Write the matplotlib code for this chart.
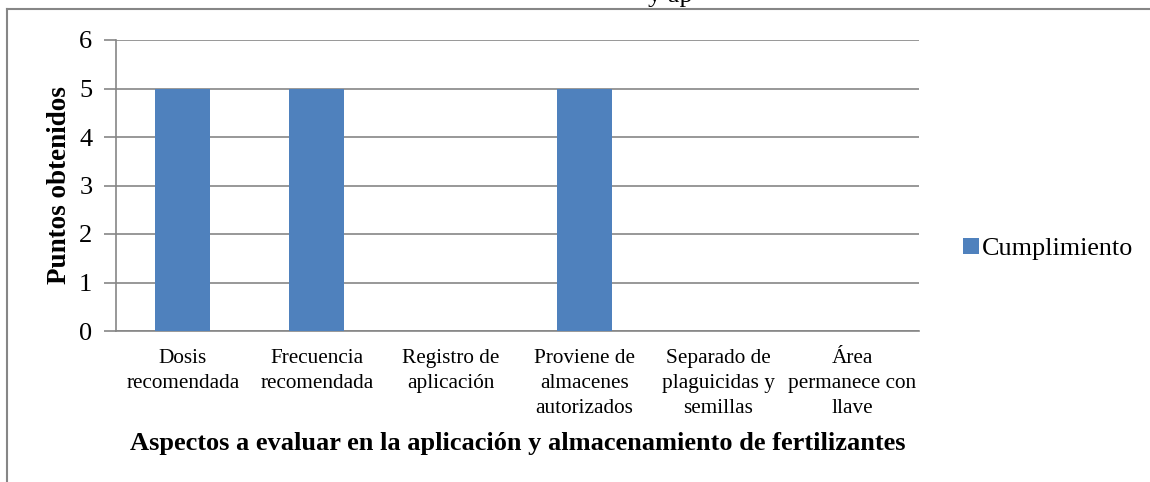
import matplotlib.pyplot as plt
from matplotlib.lines import Line2D
import numpy as np

categories = ["Dosis\nrecomendada", "Frecuencia\nrecomendada", "Registro de\naplicación",
              "Proviene de\nalmacenes\nautorizados", "Separado de\nplaguicidas y\nsemillas",
              "Área\npermanece con\nllave"]
cumplimiento = [5, 5, 0, 5, 0, 0]
y_ticks = [0, 1, 2, 3, 4, 5, 6]

W, H = 1150, 482
plt.rcParams['font.family'] = ['Liberation Serif', 'DejaVu Serif']
fig = plt.figure(figsize=(W / 100, H / 100), dpi=100)
ax = fig.add_axes([116 / W, 1 - 331 / H, (919 - 116) / W, (331 - 40) / H])

x = np.arange(len(categories))
ax.bar(x, cumplimiento, width=0.41, color='#4f81bd', label='Cumplimiento', zorder=3)
ax.set_xlim(-0.5, len(categories) - 0.5)
ax.set_ylim(0, 6)
ax.set_yticks(y_ticks)
ax.yaxis.grid(True, color='#868686', linewidth=1.2, zorder=0)
ax.set_xticks(x)
ax.set_xticklabels(categories, fontsize=15.3, linespacing=1.42)
ax.tick_params(axis='x', length=0, pad=13)
ax.tick_params(axis='y', labelsize=19, length=9, color='#868686', width=1.2, pad=8)
for s in ['top', 'right']:
    ax.spines[s].set_visible(False)
for s in ['left', 'bottom']:
    ax.spines[s].set_color('#868686')
    ax.spines[s].set_linewidth(1.2)

ax.set_ylabel('Puntos obtenidos', fontsize=19.5, fontweight='bold', labelpad=5)
ax.set_xlabel('Aspectos a evaluar en la aplicación y almacenamiento de fertilizantes',
              fontsize=19, fontweight='bold', labelpad=10)

ax.legend(loc='center left', bbox_to_anchor=(953 / W, 1 - 249 / H), bbox_transform=fig.transFigure,
          frameon=False, fontsize=18.8, handlelength=0.6, handleheight=0.6, handletextpad=0.1,
          borderaxespad=0)

# outer frame (partially cut off in the original)
fig.add_artist(Line2D([7 / W, 1], [1 - 9 / H, 1 - 9 / H], color='#868686', linewidth=1.5))
fig.add_artist(Line2D([7 / W, 7 / W], [0, 1 - 9 / H], color='#868686', linewidth=1.5))
fig.text(648 / W, 1 - 2 / H, 'y ap', fontsize=19, ha='left', va='baseline')

fig.savefig('out.png', dpi=100)
